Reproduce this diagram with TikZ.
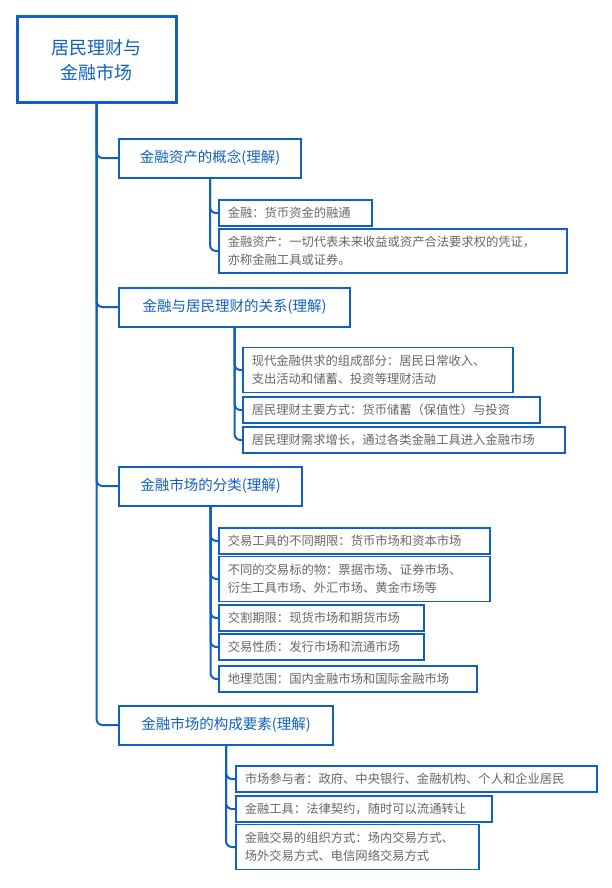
\documentclass[tikz,border=0pt]{standalone}
\usepackage{fontspec}
\setmainfont{Noto Sans CJK SC}
\definecolor{mapblue}{HTML}{1060C0}
\definecolor{leafgray}{HTML}{666666}
\tikzset{
  rootbox/.style={draw=mapblue, line width=3pt, text=mapblue, font=\fontsize{18}{25}\selectfont, align=center, minimum width=159pt, minimum height=86pt, inner sep=0pt},
  topicbox/.style={draw=mapblue, line width=2pt, text=mapblue, font=\fontsize{14.5}{16}\selectfont, anchor=west, minimum height=39pt, inner sep=0pt},
  leafbox/.style={draw=mapblue, line width=1.5pt, text=leafgray, font=\fontsize{12.3}{18}\selectfont, anchor=west, align=left, inner xsep=9pt, inner ysep=0pt},
  conn/.style={draw=mapblue, line width=2pt, rounded corners=6pt},
}
\begin{document}
\begin{tikzpicture}[x=1pt,y=-1pt]
\useasboundingbox (0,0) rectangle (612,888);
% root
\node[rootbox] (root) at (96.5,60) {居民理财与\\金融市场};

% topics
\node[topicbox, minimum width=182pt] (t1) at (118,158) {金融资产的概念(理解)};
\node[topicbox, minimum width=231pt] (t2) at (118,307) {金融与居民理财的关系(理解)};
\node[topicbox, minimum width=183pt] (t3) at (118,486) {金融市场的分类(理解)};
\node[topicbox, minimum width=214pt] (t4) at (118,725) {金融市场的构成要素(理解)};

% leaves of t1
\node[leafbox, minimum height=26pt, text width=135pt] (l11) at (218,213) {金融：货币资金的融通};
\node[leafbox, minimum height=44pt, text width=330pt] (l12) at (218,251) {金融资产：一切代表未来收益或资产合法要求权的凭证，\\亦称金融工具或证券。};

% leaves of t2
\node[leafbox, minimum height=45pt, text width=252pt] (l21) at (242,370) {现代金融供求的组成部分：居民日常收入、\\支出活动和储蓄、投资等理财活动};
\node[leafbox, minimum height=26pt, text width=279pt] (l22) at (242,410) {居民理财主要方式：货币储蓄（保值性）与投资};
\node[leafbox, minimum height=26pt, text width=304pt] (l23) at (242,440) {居民理财需求增长，通过各类金融工具进入金融市场};

% leaves of t3
\node[leafbox, minimum height=26pt, text width=253pt] (l31) at (218,541) {交易工具的不同期限：货币市场和资本市场};
\node[leafbox, minimum height=45pt, text width=253pt] (l32) at (218,579) {不同的交易标的物：票据市场、证券市场、\\衍生工具市场、外汇市场、黄金市场等};
\node[leafbox, minimum height=26pt, text width=187pt] (l33) at (218,618) {交割期限：现货市场和期货市场};
\node[leafbox, minimum height=26pt, text width=187pt] (l34) at (218,647) {交易性质：发行市场和流通市场};
\node[leafbox, minimum height=26pt, text width=240pt] (l35) at (218,679) {地理范围：国内金融市场和国际金融市场};

% leaves of t4
\node[leafbox, minimum height=26pt, text width=343pt] (l41) at (235,779) {市场参与者：政府、中央银行、金融机构、个人和企业居民};
\node[leafbox, minimum height=26pt, text width=238pt] (l42) at (235,809) {金融工具：法律契约，随时可以流通转让};
\node[leafbox, minimum height=45pt, text width=225pt] (l43) at (235,847) {金融交易的组织方式：场内交易方式、\\场外交易方式、电信网络交易方式};

% connectors
\foreach \t in {t1,t2,t3,t4} \draw[conn] (root.south) |- (\t.west);
\foreach \l in {l11,l12} \draw[conn] (t1.south) |- (\l.west);
\foreach \l in {l21,l22,l23} \draw[conn] (t2.south) |- (\l.west);
\foreach \l in {l31,l32,l33,l34,l35} \draw[conn] (t3.south) |- (\l.west);
\foreach \l in {l41,l42,l43} \draw[conn] (t4.south) |- (\l.west);
\end{tikzpicture}
\end{document}
